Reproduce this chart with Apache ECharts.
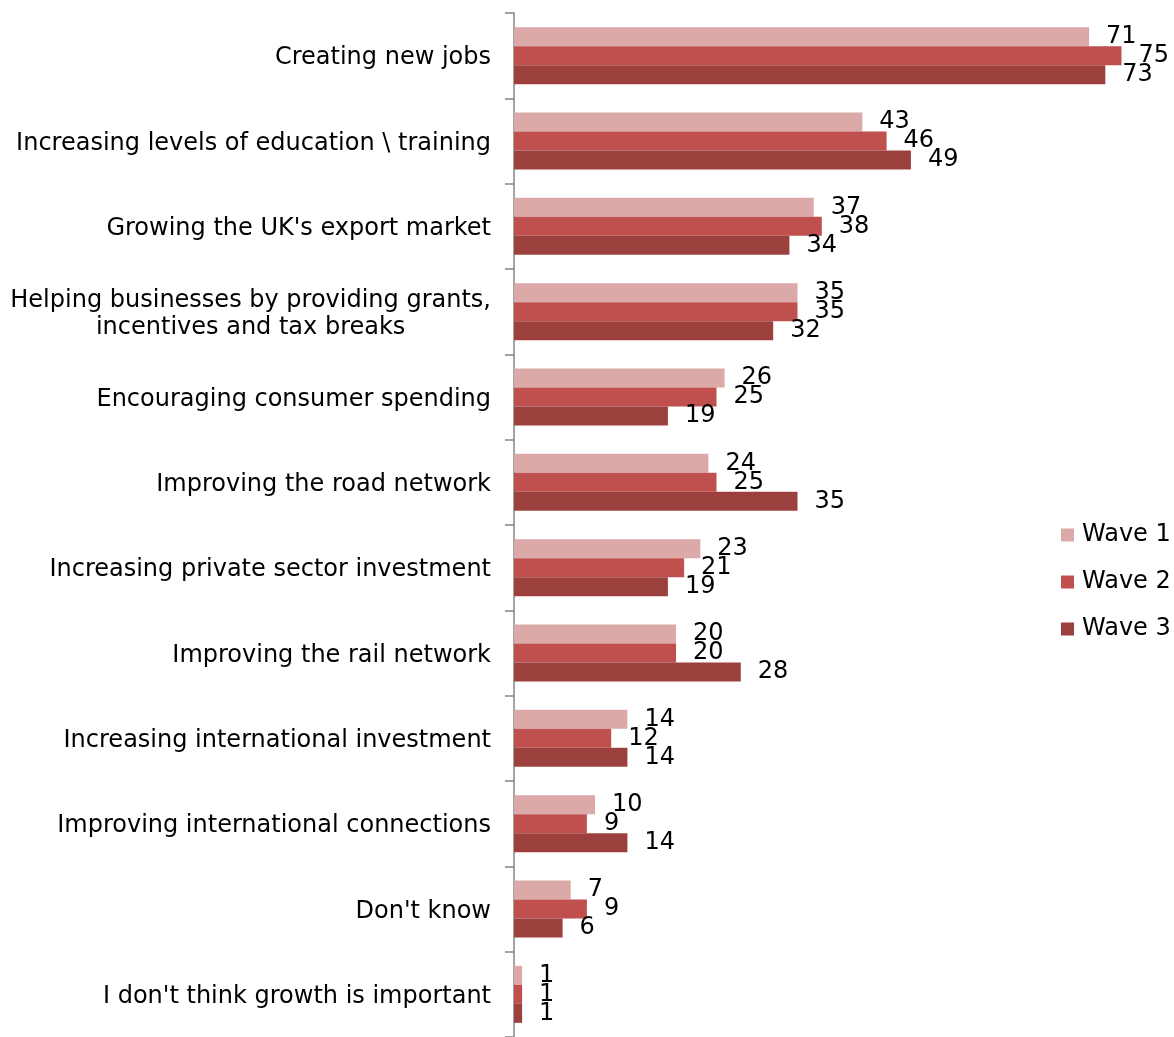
<!DOCTYPE html>
<html>
<head>
<meta charset="utf-8">
<script src="https://cdn.jsdelivr.net/npm/echarts@6/dist/echarts.min.js"></script>
<style>
  html, body { margin: 0; padding: 0; background: #fff; }
  #chart { width: 1174px; height: 1037px; }
</style>
</head>
<body>
<div id="chart"></div>
<script>
// Priorities for growth, by survey wave (%)
const categories = [
  "Creating new jobs",
  "Increasing levels of education \\ training",
  "Growing the UK's export market",
  "Helping businesses by providing grants,\nincentives and tax breaks",
  "Encouraging consumer spending",
  "Improving the road network",
  "Increasing private sector investment",
  "Improving the rail network",
  "Increasing international investment",
  "Improving international connections",
  "Don't know",
  "I don't think growth is important"
];
const wave1 = [71, 43, 37, 35, 26, 24, 23, 20, 14, 10, 7, 1];
const wave2 = [75, 46, 38, 35, 25, 25, 21, 20, 12, 9, 9, 1];
const wave3 = [73, 49, 34, 32, 19, 35, 19, 28, 14, 14, 6, 1];
const seriesNames = ["Wave 1", "Wave 2", "Wave 3"];
const seriesColors = ["#DAA9A8", "#C0504D", "#9C403E"];

const FONT = "DejaVu Sans, Verdana, sans-serif";
const FS = 24;
const chart = echarts.init(document.getElementById('chart'), null, { renderer: 'canvas' });

const makeSeries = (name, data, color) => ({
  name: name,
  type: 'bar',
  data: data,
  barWidth: 19,
  barGap: '0%',
  itemStyle: { color: color },
  label: {
    show: true,
    position: 'right',
    distance: 17,
    color: '#000',
    fontFamily: FONT,
    fontSize: FS,
    padding: [3, 0, 0, 0]
  }
});

chart.setOption({
  animation: false,
  backgroundColor: '#fff',
  grid: { left: 514, right: 12, top: 13, bottom: -8, containLabel: false },
  legend: {
    orient: 'vertical',
    left: 1056,
    top: 518,
    itemWidth: 13,
    itemHeight: 13,
    itemGap: 23,
    icon: 'rect',
    data: seriesNames,
    textStyle: { color: '#000', fontFamily: FONT, fontSize: FS, lineHeight: 24, padding: [0, 0, 0, 3] }
  },
  xAxis: {
    type: 'value',
    min: 0,
    max: 80,
    show: false
  },
  yAxis: {
    type: 'category',
    inverse: true,
    data: categories,
    axisLine: { show: true, lineStyle: { color: '#868686', width: 1.5 } },
    axisTick: { show: true, length: 9, lineStyle: { color: '#868686', width: 1.5 } },
    axisLabel: {
      margin: 23,
      color: '#000',
      fontFamily: FONT,
      fontSize: FS,
      padding: [5, 0, 0, 0],
      formatter: v => '{c|' + v + '}',
      rich: { c: { align: 'center', color: '#000', fontFamily: FONT, fontSize: FS, lineHeight: 27 } }
    }
  },
  series: [
    makeSeries(seriesNames[0], wave1, seriesColors[0]),
    makeSeries(seriesNames[1], wave2, seriesColors[1]),
    makeSeries(seriesNames[2], wave3, seriesColors[2])
  ]
});
</script>
</body>
</html>
